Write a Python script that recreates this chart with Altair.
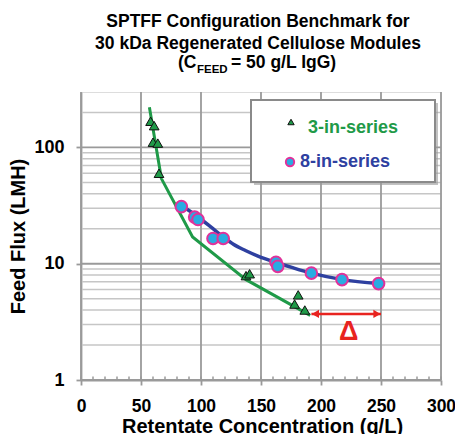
import altair as alt
import pandas as pd

# ---------------- data ----------------
tri_x = [58, 61, 60, 64, 65, 137.5, 140.5, 181, 178, 186.5]
tri_y = [168, 154, 111, 109, 60, 7.9, 8.2, 5.4, 4.5, 4.0]

circ_x = [83.6, 94.7, 97.5, 110, 118.5, 162.5, 164, 192, 217.5, 248]
circ_y = [31, 25.2, 24, 16.5, 16.5, 10.3, 9.5, 8.3, 7.3, 6.75]

fit3_x = [57, 67, 93, 137.5, 191]
fit3_y = [222, 54, 17, 7.3, 3.6]

fit8_x = [84, 97, 110, 118, 127, 137, 147, 162, 177, 192, 218, 248]
fit8_y = [31.5, 25.5, 20, 17.2, 14.7, 13.0, 11.7, 10.3, 9.2, 8.3, 7.3, 6.75]

x_ticks = [0, 50, 100, 150, 200, 250, 300]
x_minor = [0, 10, 20, 30, 40, 50, 60, 70, 80, 90, 100, 110, 120, 130, 140, 150,
           160, 170, 180, 190, 200, 210, 220, 230, 240, 250, 260, 270, 280, 290, 300]
y_major = [1, 10, 100]
y_minor = [2, 3, 4, 5, 6, 7, 8, 9, 20, 30, 40, 50, 60, 70, 80, 90, 200]

delta_x = [192, 250]
delta_y = [3.7, 3.7]
delta_label = ["\u0394"]
delta_pos = {"x": [223], "y": [2.2]}

title_lines = ["SPTFF Configuration Benchmark for", "30 kDa Regenerated Cellulose Modules"]
title_sub = ["(C", "FEED", "= 50 g/L IgG)"]
legend_labels = ["3-in-series", "8-in-series"]
x_title = "Retentate Concentration (g/L)"
y_title = "Feed Flux (LMH)"

FONT = "Liberation Sans"
GREEN = "#1F9A48"
BLUE = "#2E40A0"
CYAN = "#29ABE2"
MAGENTA = "#E0329A"
RED = "#E8231F"
MAJ = "#9a9a9a"
MIN = "#c6c6c6"

xs = alt.Scale(domain=[0, 300], nice=False, zero=False)
ys = alt.Scale(type="log", domain=[1, 300], nice=False)

AY = alt.Axis(
    values=y_major, format="d", grid=False, domainColor=MAJ, domainWidth=1.8,
    tickColor=MAJ, tickSize=5, tickWidth=1.8, labelFont=FONT, labelFontSize=18,
    labelFontWeight="bold", labelColor="black", labelPadding=12, labelFlush=False,
    labelOverlap=False, title=y_title, titleFont=FONT, titleFontSize=20,
    titleFontWeight="bold", titleColor="black", titleAngle=270, titleAlign="center",
    titleBaseline="middle", titleX=-63, titleY=144)

AX = alt.Axis(
    values=x_ticks, grid=False, domainColor=MAJ, domainWidth=1.8,
    tickColor=MAJ, tickSize=5, tickWidth=1.8, labelFont=FONT, labelFontSize=17.5,
    labelFontWeight="bold", labelColor="black", labelPadding=26,
    labelBaseline="alphabetic", labelFlush=False, labelOverlap=False,
    title=x_title, titleFont=FONT, titleFontSize=20, titleFontWeight="bold",
    titleColor="black", titleBaseline="alphabetic", titleAlign="center",
    titleX=181, titleY=52.5)


def X(f="x:Q"):
    return alt.X(f, scale=xs, axis=AX)


def Y(f="y:Q"):
    return alt.Y(f, scale=ys, axis=AY)


def df(**cols):
    return pd.DataFrame(cols)

# ---------------- grid + axes ----------------
h_minor = alt.Chart(df(y=y_minor)).mark_rule(color=MIN, strokeWidth=1.5).encode(y=Y())
h_major = alt.Chart(df(y=y_major)).mark_rule(color=MAJ, strokeWidth=1.8).encode(y=Y())
v_major = alt.Chart(df(x=x_ticks)).mark_rule(color=MAJ, strokeWidth=1.8).encode(x=X())
x_minor_ticks = alt.Chart(df(x=x_minor)).mark_rule(color=MAJ, strokeWidth=1.5).encode(
    x=X(), y=alt.value(288), y2=alt.value(284.5))

# ---------------- series ----------------
line3 = alt.Chart(df(x=fit3_x, y=fit3_y)).mark_line(color=GREEN, strokeWidth=3).encode(
    x=X(), y=Y())

line8 = alt.Chart(df(x=fit8_x, y=fit8_y)).mark_line(
    color=BLUE, strokeWidth=3.5, interpolate="monotone").encode(x=X(), y=Y())

tris = alt.Chart(df(x=tri_x, y=tri_y)).mark_point(
    shape="triangle-up", filled=True, fill=GREEN, stroke="#111111", strokeWidth=1,
    size=95, opacity=1).encode(x=X(), y=Y())

circs = alt.Chart(df(x=circ_x, y=circ_y)).mark_point(
    shape="circle", filled=True, fill=CYAN, stroke=MAGENTA, strokeWidth=2,
    size=135, opacity=1).encode(x=X(), y=Y())

# ---------------- delta arrow ----------------
arrow = alt.Chart(df(x=[delta_x[0]], x2=[delta_x[1]], y=[delta_y[0]])).mark_rule(
    color=RED, strokeWidth=2.5).encode(x=X(), x2="x2:Q", y=Y())
head_l = alt.Chart(df(x=[delta_x[0]], y=[delta_y[0]])).mark_point(
    shape="triangle-left", filled=True, color=RED, size=70, opacity=1, xOffset=4).encode(
    x=X(), y=Y())
head_r = alt.Chart(df(x=[delta_x[1]], y=[delta_y[1]])).mark_point(
    shape="triangle-right", filled=True, color=RED, size=70, opacity=1, xOffset=-4).encode(
    x=X(), y=Y())
delta = alt.Chart(df(x=delta_pos["x"], y=delta_pos["y"], t=delta_label)).mark_text(
    color=RED, font=FONT, fontSize=27, fontWeight="bold", baseline="alphabetic",
    align="center").encode(x=X(), y=Y(), text="t:N")

# ---------------- legend (drawn by hand) ----------------
one = df(t=[""])
leg_shadow = alt.Chart(one).mark_rect(fill="#9a9a9a", opacity=0.6).encode(
    x=alt.value(173), x2=alt.value(357), y=alt.value(11), y2=alt.value(93))
leg_box = alt.Chart(one).mark_rect(fill="white", stroke="#8a8a8a", strokeWidth=2).encode(
    x=alt.value(170), x2=alt.value(354), y=alt.value(8), y2=alt.value(90))
leg_tri = alt.Chart(one).mark_point(
    shape="triangle-up", filled=True, fill=GREEN, stroke="#111111", strokeWidth=1,
    size=40, opacity=1).encode(x=alt.value(210), y=alt.value(30))
leg_circ = alt.Chart(one).mark_point(
    shape="circle", filled=True, fill=CYAN, stroke=MAGENTA, strokeWidth=2,
    size=70, opacity=1).encode(x=alt.value(209), y=alt.value(70))
leg_t1 = alt.Chart(df(t=[legend_labels[0]])).mark_text(
    color=GREEN, font=FONT, fontSize=18, fontWeight="bold", align="left",
    baseline="middle").encode(x=alt.value(227), y=alt.value(36), text="t:N")
leg_t2 = alt.Chart(df(t=[legend_labels[1]])).mark_text(
    color=BLUE, font=FONT, fontSize=18, fontWeight="bold", align="left",
    baseline="middle").encode(x=alt.value(219), y=alt.value(70), text="t:N")

# ---------------- title (drawn as text for the subscript) ----------------
def ttext(s, x, y, size=17.5, align="center"):
    return alt.Chart(df(t=[s])).mark_text(
        color="black", font=FONT, fontSize=size, fontWeight="bold", align=align,
        baseline="alphabetic").encode(x=alt.value(x), y=alt.value(y), text="t:N")

t1 = ttext(title_lines[0], 177, -65)
t2 = ttext(title_lines[1], 177, -43)
t3a = ttext(title_sub[0], 115.5, -24, align="right")
t3b = ttext(title_sub[1], 116, -19, size=11.5, align="left")
t3c = ttext(title_sub[2], 150, -24, align="left")

chart = alt.layer(
    h_minor, h_major, v_major, x_minor_ticks,
    line3, line8, tris, circs,
    arrow, head_l, head_r, delta,
    leg_shadow, leg_box, leg_tri, leg_circ, leg_t1, leg_t2,
    t1, t2, t3a, t3b, t3c,
).properties(
    width=360, height=288,
    autosize=alt.AutoSizeParams(type="none"),
    padding={"left": 73, "top": 84, "right": 14, "bottom": 62},
).configure_view(stroke=None).configure(background="white")

chart.save("out.html", embed_options={"renderer": "svg", "actions": False})
